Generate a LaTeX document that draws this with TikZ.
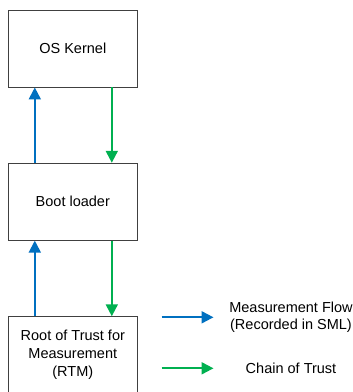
\documentclass[tikz,border=0pt]{standalone}
\usepackage{fontspec}
\setmainfont{Liberation Sans}
\usetikzlibrary{arrows.meta}
\definecolor{flowblue}{HTML}{0070C0}
\definecolor{trustgreen}{HTML}{00B050}
\definecolor{boxline}{HTML}{404040}
\tikzset{
  stage/.style={draw=boxline, line width=0.9pt, minimum width=129pt, minimum height=77pt,
    inner sep=0pt, align=center, font=\fontsize{14.5}{18}\selectfont},
  measure/.style={draw=flowblue, line width=2pt, -{Triangle[length=12pt,width=12pt]}},
  trust/.style={draw=trustgreen, line width=2pt, -{Triangle[length=12pt,width=12pt]}},
  legendtext/.style={align=center, font=\fontsize{14.5}{17.5}\selectfont, inner sep=0pt}
}
\begin{document}
\begin{tikzpicture}[x=1pt,y=-1pt]
  \useasboundingbox (0,0) rectangle (353,392);
  \fill[white] (0,0) rectangle (353,392);

  % boot chain stages
  \node[stage] (kernel) at (72.8,48.5) {OS Kernel};
  \node[stage] (boot) at (72.8,201.7) {Boot loader};
  \node[stage] (rtm) at (72.8,355.2) {Root of Trust for\\Measurement\\(RTM)};

  % measurement flow (upwards) and chain of trust (downwards)
  \draw[measure] ([xshift=-38pt]boot.north) -- ([xshift=-38pt]kernel.south);
  \draw[trust] ([xshift=39pt]kernel.south) -- ([xshift=39pt]boot.north);
  \draw[measure] ([xshift=-38pt]rtm.north) -- ([xshift=-38pt]boot.south);
  \draw[trust] ([xshift=39pt]boot.south) -- ([xshift=39pt]rtm.north);

  % legend
  \coordinate (mf0) at (161.7,317.3);
  \coordinate (mf1) at (213.5,317.3);
  \coordinate (ct0) at (161.7,368.3);
  \coordinate (ct1) at (213.5,368.3);
  \draw[measure] (mf0) -- (mf1);
  \draw[trust] (ct0) -- (ct1);
  \node[legendtext] (mflabel) at (291,317) {Measurement Flow\\(Recorded in SML)};
  \node[legendtext] (ctlabel) at (291,368) {Chain of Trust};
\end{tikzpicture}
\end{document}
